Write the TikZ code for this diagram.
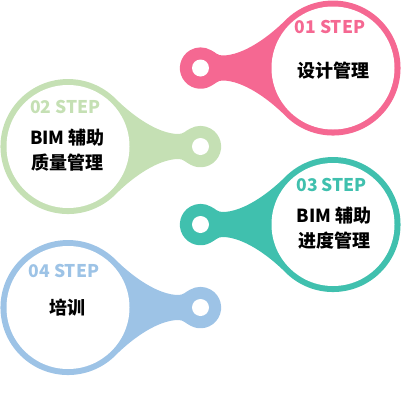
\documentclass[tikz,border=0pt]{standalone}
\usepackage{fontspec}
\setmainfont{Noto Sans CJK SC}
\usepackage{tikz}

\definecolor{pinkc}{RGB}{245,104,146}
\definecolor{greenc}{RGB}{197,224,180}
\definecolor{tealc}{RGB}{64,192,174}
\definecolor{bluec}{RGB}{157,195,230}

\begin{document}
\begin{tikzpicture}
  [x=1pt,y=-1pt,
   steplabel/.style={font=\fontsize{17.5}{18}\selectfont\bfseries},
   tasklabel/.style={font=\fontsize{18}{25}\selectfont\bfseries,align=center,text=black}]
  \useasboundingbox (0,0) rectangle (401,408);

  % pins: knob at x=200.5, big circle 132.5 to the side
  \foreach \y/\s/\col in {68/1/pinkc,146.5/-1/greenc,224.5/1/tealc,307.5/-1/bluec}
  {
    \begin{scope}[shift={(200.5,\y)},xscale=\s]
      \fill[\col] (84.8,47.7) .. controls (67.1,30) and (42,12.5) .. (22,12.5)
        .. controls (17,12.5) and (15.5,15.4) .. (10.4,18)
        arc[start angle=60,end angle=300,radius=20.7]
        .. controls (15.5,-15.4) and (17,-12.5) .. (22,-12.5)
        .. controls (42,-12.5) and (67.1,-30) .. (84.8,-47.7)
        arc[start angle=-135,end angle=135,radius=67.5] -- cycle;
      \fill[white] (0,0) circle[radius=8.5];
      \fill[white] (132.5,0) circle[radius=61.5];
    \end{scope}
  }

  \node[steplabel,text=pinkc] (s1) at (330,27) {01 STEP};
  \node[tasklabel] (t1) at (333,70.5) {设计管理};
  \node[steplabel,text=greenc] (s2) at (65.3,107) {02 STEP};
  \node[tasklabel] (t2) at (67.5,150.2) {BIM 辅助\\质量管理};
  \node[steplabel,text=tealc] (s3) at (331.7,185.3) {03 STEP};
  \node[tasklabel] (t3) at (334,228) {BIM 辅助\\进度管理};
  \node[steplabel,text=bluec] (s4) at (64,270.5) {04 STEP};
  \node[tasklabel] (t4) at (67,307.5) {培训};
\end{tikzpicture}
\end{document}
